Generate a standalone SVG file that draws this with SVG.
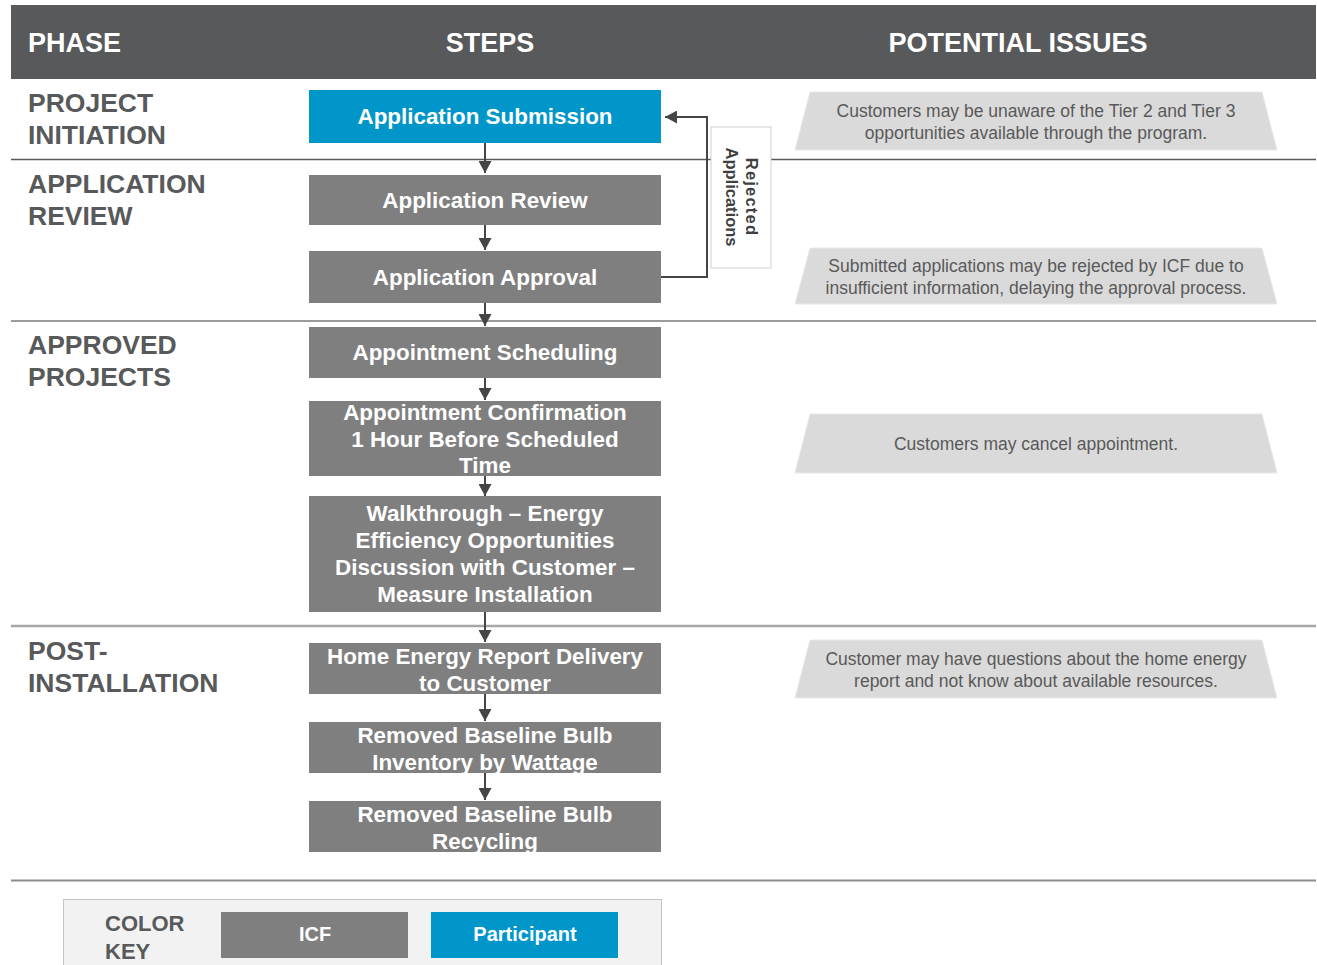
<svg xmlns="http://www.w3.org/2000/svg" width="1317" height="965" viewBox="0 0 1317 965">
<defs>
<marker id="ah" viewBox="0 0 12 13" refX="12" refY="6.5" markerWidth="12" markerHeight="13" markerUnits="userSpaceOnUse" orient="auto">
<path d="M0,0 L12,6.5 L0,13 Z" fill="#454545"/>
</marker>
<style>
.hdr{font-family:"Liberation Sans",Arial,sans-serif;font-weight:bold;font-size:27px;fill:#ffffff}
.ph{font-family:"Liberation Sans",Arial,sans-serif;font-weight:bold;font-size:26.5px;fill:#58595b}
.box{fill:#7f7f7f}
.blue{fill:#0096c9}
.st{font-family:"Liberation Sans",Arial,sans-serif;font-weight:bold;font-size:22.4px;fill:#ffffff;text-anchor:middle}
.iss{fill:#dadada;stroke:#e8e8e8;stroke-width:1}
.it{font-family:"Liberation Sans",Arial,sans-serif;font-size:17.5px;fill:#595959;text-anchor:middle}
.con{fill:none;stroke:#454545;stroke-width:2}
.rej{font-family:"Liberation Sans",Arial,sans-serif;font-weight:bold;font-size:16.5px;fill:#404040;text-anchor:middle}
.key{font-family:"Liberation Sans",Arial,sans-serif;font-weight:bold;font-size:20px;fill:#ffffff;text-anchor:middle}
</style>
</defs>
<rect width="1317" height="965" fill="#ffffff"/>
<g id="header">
<rect x="11" y="5" width="1305" height="74" fill="#58595b"/>
<text class="hdr" x="28" y="52">PHASE</text>
<text class="hdr" x="490" y="52" text-anchor="middle">STEPS</text>
<text class="hdr" x="1018" y="52" text-anchor="middle">POTENTIAL ISSUES</text>
</g>
<g id="separators">
<line x1="11" y1="159.5" x2="1316" y2="159.5" stroke="#5a5a5a" stroke-width="1.5"/>
<line x1="11" y1="321" x2="1316" y2="321" stroke="#7a7a7a" stroke-width="1.5"/>
<line x1="11" y1="626" x2="1316" y2="626" stroke="#a6a6a6" stroke-width="2.5"/>
<line x1="11" y1="880.5" x2="1316" y2="880.5" stroke="#8c8c8c" stroke-width="2"/>
</g>
<g id="phases">
<text class="ph" x="28" y="112">PROJECT</text>
<text class="ph" x="28" y="144">INITIATION</text>
<text class="ph" x="28" y="193">APPLICATION</text>
<text class="ph" x="28" y="225">REVIEW</text>
<text class="ph" x="28" y="354">APPROVED</text>
<text class="ph" x="28" y="386">PROJECTS</text>
<text class="ph" x="28" y="660">POST-</text>
<text class="ph" x="28" y="692">INSTALLATION</text>
</g>
<g id="connectors">
<line class="con" x1="485" y1="143" x2="485" y2="173" marker-end="url(#ah)"/>
<line class="con" x1="485" y1="225" x2="485" y2="250" marker-end="url(#ah)"/>
<line class="con" x1="485" y1="303" x2="485" y2="326" marker-end="url(#ah)"/>
<line class="con" x1="485" y1="378" x2="485" y2="400" marker-end="url(#ah)"/>
<line class="con" x1="485" y1="476" x2="485" y2="496" marker-end="url(#ah)"/>
<line class="con" x1="485" y1="612" x2="485" y2="642" marker-end="url(#ah)"/>
<line class="con" x1="485" y1="694" x2="485" y2="721" marker-end="url(#ah)"/>
<line class="con" x1="485" y1="773" x2="485" y2="800" marker-end="url(#ah)"/>
<polyline class="con" points="661,277 707,277 707,117 665,117" marker-end="url(#ah)"/>
</g>
<g id="rejected-label">
<rect x="711" y="127" width="60" height="141" fill="#ffffff" stroke="#d0d0d0" stroke-width="1"/>
<text class="rej" transform="translate(746,197) rotate(90)" letter-spacing="1.2">Rejected</text>
<text class="rej" transform="translate(726,197) rotate(90)">Applications</text>
</g>
<g id="step-submission">
<rect class="blue" x="309" y="90" width="352" height="53"/>
<text class="st" x="485" y="124">Application Submission</text>
</g>
<g id="step-review">
<rect class="box" x="309" y="175" width="352" height="50"/>
<text class="st" x="485" y="208">Application Review</text>
</g>
<g id="step-approval">
<rect class="box" x="309" y="251" width="352" height="52"/>
<text class="st" x="485" y="285">Application Approval</text>
</g>
<g id="step-scheduling">
<rect class="box" x="309" y="327" width="352" height="51"/>
<text class="st" x="485" y="360">Appointment Scheduling</text>
</g>
<g id="step-confirmation">
<rect class="box" x="309" y="401" width="352" height="75"/>
<text class="st" x="485" y="420">Appointment Confirmation</text>
<text class="st" x="485" y="447">1 Hour Before Scheduled</text>
<text class="st" x="485" y="473">Time</text>
</g>
<g id="step-walkthrough">
<rect class="box" x="309" y="496" width="352" height="116"/>
<text class="st" x="485" y="521">Walkthrough – Energy</text>
<text class="st" x="485" y="548">Efficiency Opportunities</text>
<text class="st" x="485" y="575">Discussion with Customer –</text>
<text class="st" x="485" y="602">Measure Installation</text>
</g>
<g id="step-report">
<rect class="box" x="309" y="643" width="352" height="51"/>
<text class="st" x="485" y="664">Home Energy Report Delivery</text>
<text class="st" x="485" y="691">to Customer</text>
</g>
<g id="step-inventory">
<rect class="box" x="309" y="722" width="352" height="51"/>
<text class="st" x="485" y="743">Removed Baseline Bulb</text>
<text class="st" x="485" y="770">Inventory by Wattage</text>
</g>
<g id="step-recycling">
<rect class="box" x="309" y="801" width="352" height="51"/>
<text class="st" x="485" y="822">Removed Baseline Bulb</text>
<text class="st" x="485" y="849">Recycling</text>
</g>
<g id="issue-1">
<polygon class="iss" points="810,92 1262,92 1277,150 795,150"/>
<text class="it" x="1036" y="117">Customers may be unaware of the Tier 2 and Tier 3</text>
<text class="it" x="1036" y="139">opportunities available through the program.</text>
</g>
<g id="issue-2">
<polygon class="iss" points="810,248 1262,248 1277,304 795,304"/>
<text class="it" x="1036" y="272">Submitted applications may be rejected by ICF due to</text>
<text class="it" x="1036" y="294">insufficient information, delaying the approval process.</text>
</g>
<g id="issue-3">
<polygon class="iss" points="810,414 1262,414 1277,473 795,473"/>
<text class="it" x="1036" y="450">Customers may cancel appointment.</text>
</g>
<g id="issue-4">
<polygon class="iss" points="810,640 1262,640 1277,698 795,698"/>
<text class="it" x="1036" y="665">Customer may have questions about the home energy</text>
<text class="it" x="1036" y="687">report and not know about available resources.</text>
</g>
<g id="color-key">
<rect x="63.5" y="899.5" width="598" height="70" fill="#f2f2f2" stroke="#c4c4c4" stroke-width="1"/>
<text class="ph" x="105" y="931" style="font-size:22px">COLOR</text>
<text class="ph" x="105" y="959" style="font-size:22px">KEY</text>
<rect class="box" x="221" y="912" width="187" height="46"/>
<text class="key" x="315" y="941">ICF</text>
<rect class="blue" x="431" y="912" width="187" height="46"/>
<text class="key" x="525" y="941">Participant</text>
</g>
</svg>
